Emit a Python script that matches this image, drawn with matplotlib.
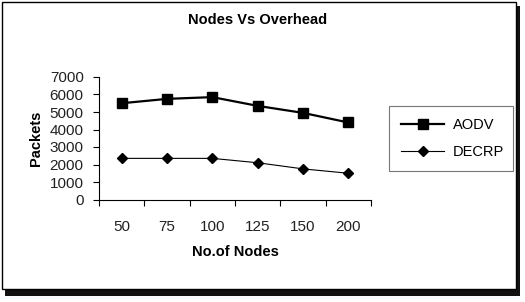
import matplotlib
matplotlib.use("Agg")
import matplotlib.pyplot as plt
from matplotlib.patches import Rectangle

plt.rcParams['font.family'] = ['Liberation Sans', 'DejaVu Sans']

nodes = ['50', '75', '100', '125', '150', '200']
aodv = [5500, 5750, 5850, 5350, 4950, 4400]
decrp = [2350, 2350, 2350, 2100, 1750, 1500]
yticks = [0, 1000, 2000, 3000, 4000, 5000, 6000, 7000]

fig = plt.figure(figsize=(5.25, 3.02), dpi=100)

# outer frame with drop shadow
W, H = 525, 302
shadow = Rectangle((5 / W, 1 - 296 / H), 515 / W, 290 / H, transform=fig.transFigure,
                   facecolor='#111111', edgecolor='none', zorder=-3)
frame = Rectangle((2 / W, 1 - 289 / H), 514 / W, 287 / H, transform=fig.transFigure,
                  facecolor='white', edgecolor='black', linewidth=1.0, zorder=-2)
fig.patches.extend([shadow, frame])

ax = fig.add_axes([99 / W, 1 - 199.5 / H, 272 / W, 122.5 / H])
ax.set_facecolor('none')
x = list(range(len(nodes)))
ax.plot(x, aodv, color='black', linewidth=1.6, marker='s', markersize=6.5, label='AODV')
ax.plot(x, decrp, color='black', linewidth=0.8, marker='D', markersize=5, label='DECRP')

ax.set_xlim(-0.5, len(nodes) - 0.5)
ax.set_ylim(0, 7000)
ax.set_yticks(yticks)
ax.set_yticklabels([str(v) for v in yticks], fontsize=11, color='#222222')
ax.set_xticks([i - 0.5 for i in range(len(nodes) + 1)])
ax.set_xticklabels([])
ax.set_xticks(x, minor=True)
ax.set_xticklabels(nodes, minor=True, fontsize=11, color='#222222')
ax.tick_params(axis='x', which='major', length=4, width=0.8, direction='out')
ax.tick_params(axis='x', which='minor', length=0, pad=15)
ax.tick_params(axis='y', length=4, width=0.8, pad=7)
for s in ['top', 'right']:
    ax.spines[s].set_visible(False)
for s in ['left', 'bottom']:
    ax.spines[s].set_linewidth(0.8)

ax.set_ylabel('Packets', fontsize=10.5, fontweight='bold', labelpad=5)
ax.set_xlabel('No.of Nodes', fontsize=10.5, fontweight='bold', labelpad=8)

fig.text(258 / W, 1 - 20 / H, 'Nodes Vs Overhead', ha='center', va='center',
         fontsize=10.5, fontweight='bold')

leg = ax.legend(loc='center left', bbox_to_anchor=(389 / W, 1 - 169 / H, 124 / W, 61 / H),
                bbox_transform=fig.transFigure, mode='expand', fontsize=10.5,
                frameon=True, fancybox=False, edgecolor='#555555', handlelength=3.0,
                handletextpad=0.6, borderaxespad=0, labelspacing=0.9, borderpad=0.8)
leg.get_frame().set_linewidth(0.8)

fig.savefig('out.png', dpi=100)
